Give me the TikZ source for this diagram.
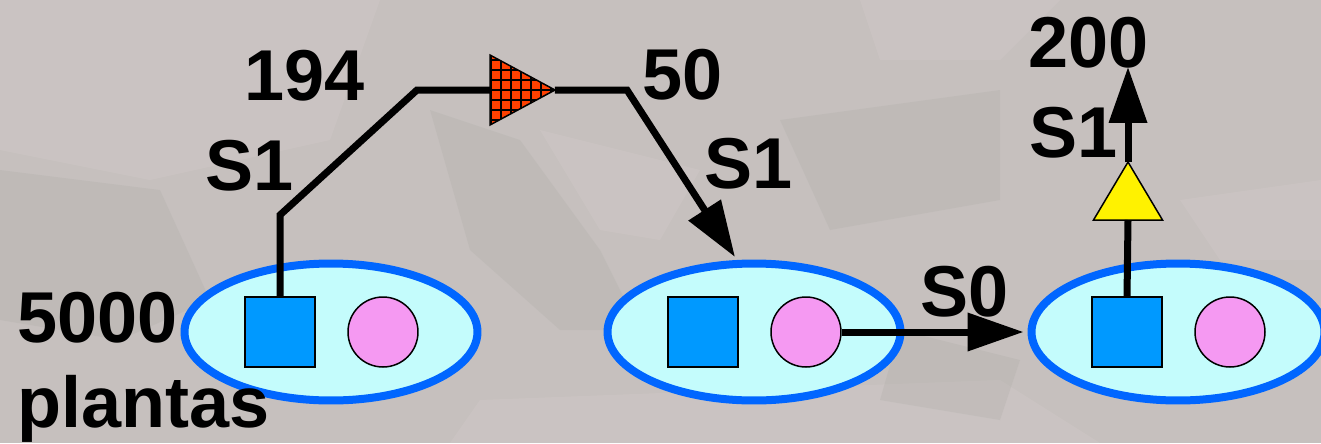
\documentclass[tikz,border=0pt]{standalone}
\usepackage{fontspec}
\setmainfont{Liberation Sans}
\usetikzlibrary{shapes.geometric,arrows.meta}
\definecolor{fondo}{RGB}{198,192,190}
\definecolor{fondoclaro}{RGB}{214,205,204}
\definecolor{fondoscuro}{RGB}{176,175,170}
\definecolor{celeste}{RGB}{196,252,252}
\definecolor{borde}{RGB}{0,102,255}
\definecolor{azul}{RGB}{0,153,255}
\definecolor{rosa}{RGB}{245,153,242}
\definecolor{naranja}{RGB}{255,64,0}
\tikzstyle{grupo} = [ellipse, draw=borde, line width=.16cm, fill=celeste, minimum width=5.86cm, minimum height=2.74cm, inner sep=0pt]
\tikzstyle{macho} = [rectangle, draw=black, line width=.03cm, fill=azul, minimum size=1.4cm, inner sep=0pt]
\tikzstyle{hembra} = [circle, draw=black, line width=.03cm, fill=rosa, minimum size=1.4cm, inner sep=0pt]
\tikzstyle{etiqueta} = [font=\fontsize{41}{48}\selectfont\bfseries, inner sep=0pt, anchor=base west]
\tikzstyle{flujo} = [line width=.14cm, line join=miter]
\tikzstyle{punta} = [-{Triangle[length=1.12cm, width=.74cm]}]
\tikzstyle{filtro} = [isosceles triangle, isosceles triangle stretches, draw=black, line width=.03cm, inner sep=0pt, outer sep=0pt]
% one family: male square and female circle inside the ellipse
\newcommand{\familia}[2]{%
  \node [grupo] (#1) at (#2) {};
  \node [macho, xshift=-1.02cm] (#1m) at (#1) {};
  \node [hembra, xshift=1.04cm] (#1h) at (#1) {};}

\begin{document}
\begin{tikzpicture}[x=0.02cm, y=-0.02cm]
  \useasboundingbox (0,0) rectangle (1321,443);
  \fill[fondo] (0,0) rectangle (1321,443);
  % texture of the background
  \begin{scope}[fill opacity=.3]
    \fill[fondoclaro] (0,0) -- (380,0) -- (330,140) -- (150,180) -- (0,150) -- cycle;
    \fill[fondoscuro] (0,170) -- (160,190) -- (210,300) -- (120,340) -- (0,320) -- cycle;
    \fill[fondoscuro] (430,110) -- (520,140) -- (600,250) -- (640,330) -- (560,330) -- (470,250) -- cycle;
    \fill[fondoclaro] (540,130) -- (700,170) -- (660,240) -- (600,230) -- cycle;
    \fill[fondoscuro] (780,120) -- (1000,90) -- (1000,200) -- (830,230) -- cycle;
    \fill[fondoclaro] (860,0) -- (1060,0) -- (1000,60) -- (880,60) -- cycle;
    \fill[fondoclaro] (1180,200) -- (1321,180) -- (1321,260) -- (1220,260) -- cycle;
    \fill[fondoclaro] (480,400) -- (1000,380) -- (1100,443) -- (450,443) -- cycle;
    \fill[fondoscuro] (900,330) -- (1020,360) -- (1000,420) -- (880,400) -- cycle;
  \end{scope}

  \familia{g1}{331,332}
  \familia{g2}{754,332}
  \familia{g3}{1178,332}

  \node [filtro, fill=naranja, minimum height=1.3cm, minimum width=1.4cm, anchor=lower side,
    path picture={\draw[line width=1pt, step=.2cm] (path picture bounding box.south west) grid (path picture bounding box.north east);}]
    (cruce) at (490,90) {};
  \node [filtro, fill=yellow, rotate=90, minimum height=1.16cm, minimum width=1.38cm, anchor=lower side]
    (seleccion) at (1128,220) {};

  \coordinate (codo1) at (280,215);
  \coordinate (codo2) at (417,90);
  \coordinate (codo3) at (627,90);
  \coordinate (llegada) at (735,257);
  \coordinate (salida) at (1128,67);

  \draw[flujo] (g1m.north) -- (codo1) -- (codo2) -- (cruce.lower side);
  \draw[flujo, punta] (cruce.apex) -- (codo3) -- (llegada);
  \draw[flujo, punta, shorten >=.08cm] (g2h.east) -- (g3.west);
  \draw[flujo] (g3m.north) -- (seleccion.lower side);
  \draw[flujo, punta] (seleccion.apex) -- (salida);

  \node [etiqueta] (n194) at (244,100) {194};
  \node [etiqueta] (s1a) at (205,190) {S1};
  \node [etiqueta] (n50) at (642,99) {50};
  \node [etiqueta] (s1b) at (704,188) {S1};
  \node [etiqueta] (n200) at (1028,67) {200};
  \node [etiqueta] (s1c) at (1029,157) {S1};
  \node [etiqueta] (s0) at (920,316) {S0};
  \node [etiqueta] (cant) at (17,342) {5000};
  \node [etiqueta] (plantas) at (17,427) {plantas};
\end{tikzpicture}
\end{document}
